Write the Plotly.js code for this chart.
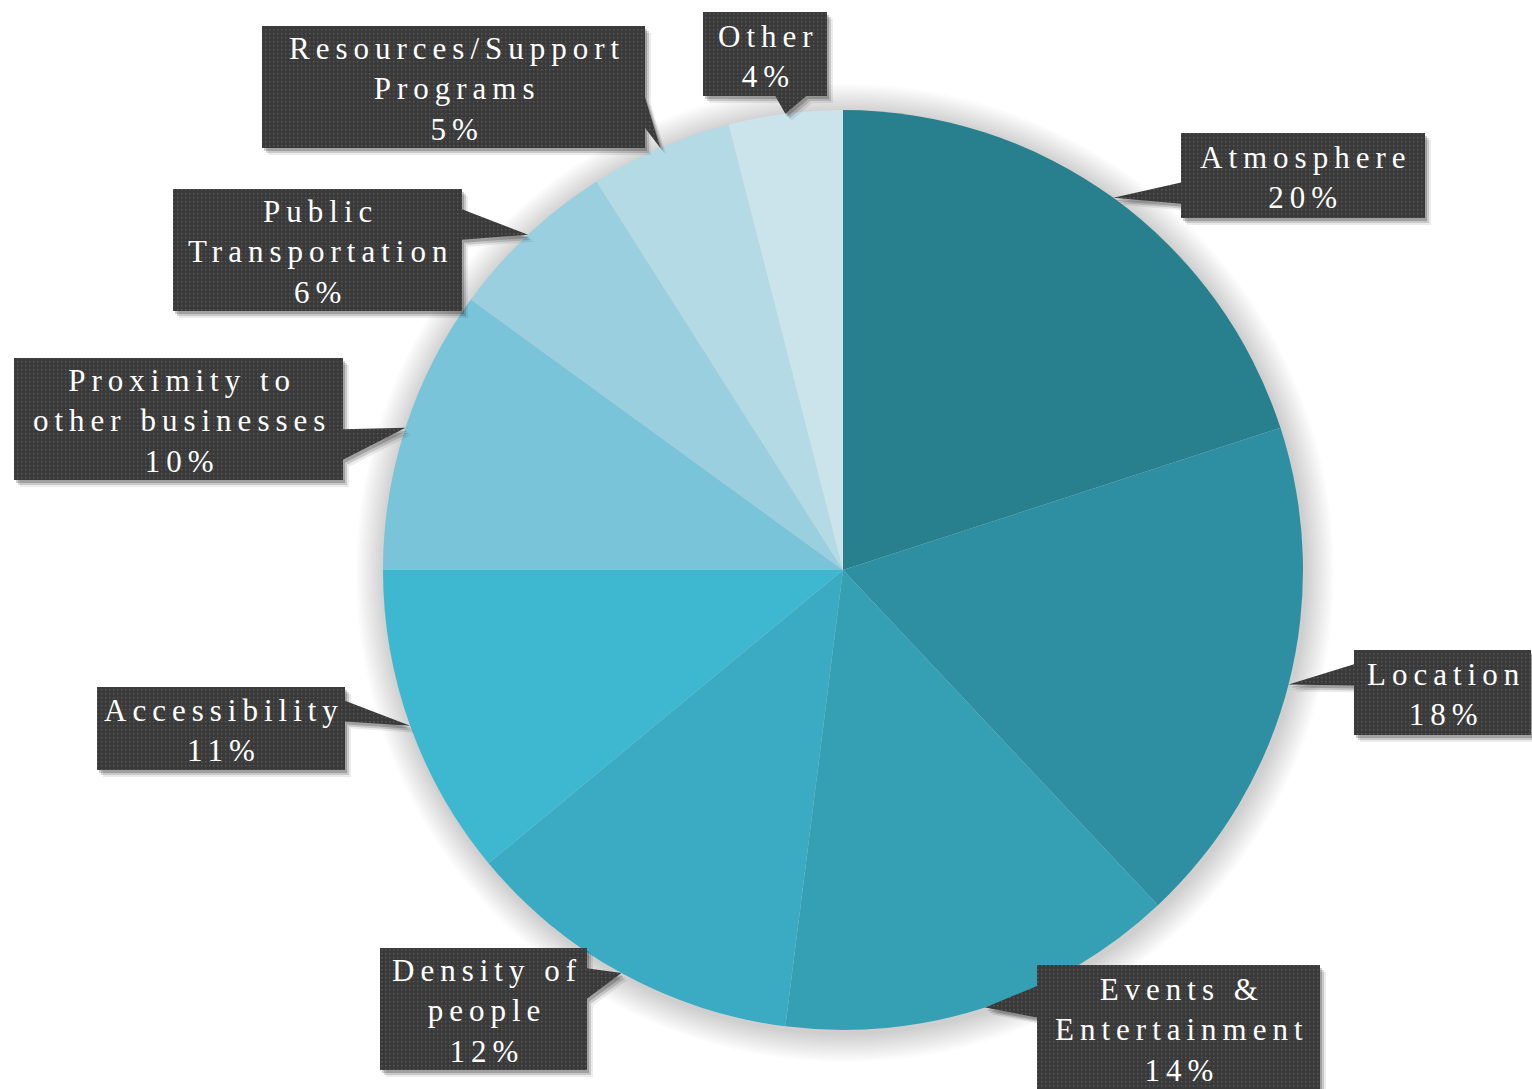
<!DOCTYPE html>
<html><head><meta charset="utf-8">
<script src="https://cdn.plot.ly/plotly-3.0.1.min.js"></script>
<style>
html,body{margin:0;padding:0;background:#fff;}
#chart{width:1532px;height:1089px;}
.annotation-text{letter-spacing:6px;}
</style></head><body><div id="chart"></div>
<script>
// ---- data ----
const categories = ["Atmosphere","Location","Events & Entertainment","Density of people","Accessibility","Proximity to other businesses","Public Transportation","Resources/Support Programs","Other"];
const values = [20,18,14,12,11,10,6,5,4];
const labelLines = [["Atmosphere"],["Location"],["Events &","Entertainment"],["Density of","people"],["Accessibility"],["Proximity to","other businesses"],["Public","Transportation"],["Resources/Support","Programs"],["Other"]];
const colors = ["#287f8e","#2f8fa2","#35a0b4","#3aabc3","#3eb8d0","#79c4d8","#9acfdf","#b4dae5","#cbe4ec"];

// ---- layout constants (pixels) ----
const W = 1532, H = 1089;
const CX = 843, CY = 570, R = 460;
const boxes = [[1181,133,1425,218],[1354,650,1531,735],[1037,965,1320,1091],[380,948,587,1070],[97,687,345,770],[14,358,343,480],[173,189,462,311],[262,26,645,148],[703,12,827,96]];

const px = x => x / W, py = y => 1 - y / H;

const total = values.reduce((a,b)=>a+b,0);
let cum = 0;
const tips = values.map(v => { const a = (cum + v/2)/total*2*Math.PI; cum += v; return [CX + R*Math.sin(a), CY - R*Math.cos(a)]; });

function calloutPts(b, tip){
  const [x0,y0,x1,y1] = b; const w = x1-x0, h = y1-y0, cx = (x0+x1)/2, cy = (y0+y1)/2;
  const dx = (tip[0]-cx)/w, dy = (tip[1]-cy)/h;
  if (Math.abs(dx) > Math.abs(dy)) {
    const f = tip[1] < cy ? [2/12,5/12] : [7/12,10/12];
    const ya = y0+h*f[0], yb = y0+h*f[1];
    if (dx > 0) return [[x0,y0],[x1,y0],[x1,ya],tip,[x1,yb],[x1,y1],[x0,y1]];
    return [[x0,y0],[x1,y0],[x1,y1],[x0,y1],[x0,yb],tip,[x0,ya]];
  } else {
    const f = tip[0] < cx ? [2/12,5/12] : [7/12,10/12];
    const xa = x0+w*f[0], xb = x0+w*f[1];
    if (dy > 0) return [[x0,y0],[x1,y0],[x1,y1],[xb,y1],tip,[xa,y1],[x0,y1]];
    return [[x0,y0],[xa,y0],tip,[xb,y0],[x1,y0],[x1,y1],[x0,y1]];
  }
}
function toPath(pts, ox, oy){
  return 'M ' + pts.map(p => px(p[0]+ox).toFixed(5)+','+py(p[1]+oy).toFixed(5)).join(' L ') + ' Z';
}

const shapes = [];
// pie soft shadow
for (let k = 12; k >= 1; k--) {
  const r = R + k*2.4;
  shapes.push({type:'circle', xref:'paper', yref:'paper', layer:'below',
    x0: px(CX+2-r), x1: px(CX+2+r), y0: py(CY+3+r), y1: py(CY+3-r),
    fillcolor:'rgba(0,0,0,0.016)', line:{width:0}});
}
// callout shadows and boxes
boxes.forEach((b,i) => {
  const pts = calloutPts(b, tips[i]);
  shapes.push({type:'path', xref:'paper', yref:'paper', layer:'above', path: toPath(pts,6,7), fillcolor:'rgba(0,0,0,0.08)', line:{width:0}});
  shapes.push({type:'path', xref:'paper', yref:'paper', layer:'above', path: toPath(pts,4,5), fillcolor:'rgba(0,0,0,0.15)', line:{width:0}});
  shapes.push({type:'path', xref:'paper', yref:'paper', layer:'above', path: toPath(pts,2,3), fillcolor:'rgba(0,0,0,0.2)', line:{width:0}});
});
boxes.forEach((b,i) => {
  const pts = calloutPts(b, tips[i]);
  shapes.push({type:'path', xref:'paper', yref:'paper', layer:'above', path: toPath(pts,0,0), fillcolor:'rgb(58,58,58)', line:{width:0}});
});

const annotations = boxes.map((b,i) => ({
  xref:'paper', yref:'paper', x: px((b[0]+b[2])/2), y: py((b[1]+b[3])/2),
  xanchor:'center', yanchor:'middle', xshift: 3, yshift: -2, showarrow:false,
  text: labelLines[i].concat([Math.round(values[i]/total*100) + '%']).join('<br>'),
  font:{family:'Liberation Serif, Times New Roman, serif', size:31, color:'#ffffff'}
}));

const trace = {
  type:'pie', labels: categories, values: values, sort:false, direction:'clockwise', rotation:0,
  marker:{colors: colors, line:{width:0}}, textinfo:'none', hoverinfo:'label+percent',
  domain:{x:[px(CX-R), px(CX+R)], y:[py(CY+R), py(CY-R)]}
};

const layout = {
  width: W, height: H, margin:{l:0,r:0,t:0,b:0}, showlegend:false,
  paper_bgcolor:'#ffffff', plot_bgcolor:'#ffffff', shapes: shapes, annotations: annotations
};

Plotly.newPlot('chart', [trace], layout, {displayModeBar:false, staticPlot:true}).then(gd => {
  const ns = 'http://www.w3.org/2000/svg';
  gd.querySelectorAll('.shapelayer path').forEach(p => {
    const f = p.style.fill.replace(/\s/g,'');
    if (f === 'rgb(58,58,58)') {
      const svg = p.ownerSVGElement;
      if (!svg.querySelector('#dotpat')) {
        let defs = svg.querySelector('defs');
        if (!defs) { defs = document.createElementNS(ns,'defs'); svg.insertBefore(defs, svg.firstChild); }
        const pat = document.createElementNS(ns,'pattern');
        pat.setAttribute('id','dotpat'); pat.setAttribute('width','4'); pat.setAttribute('height','4');
        pat.setAttribute('patternUnits','userSpaceOnUse');
        const r1 = document.createElementNS(ns,'rect'); r1.setAttribute('width','4'); r1.setAttribute('height','4'); r1.setAttribute('fill','#3a3a3a');
        const r2 = document.createElementNS(ns,'rect'); r2.setAttribute('x','1'); r2.setAttribute('y','1'); r2.setAttribute('width','1.4'); r2.setAttribute('height','1.4'); r2.setAttribute('fill','#585858');
        pat.appendChild(r1); pat.appendChild(r2); defs.appendChild(pat);
      }
      p.style.fill = 'url(#dotpat)';
    }
  });
});
</script></body></html>
